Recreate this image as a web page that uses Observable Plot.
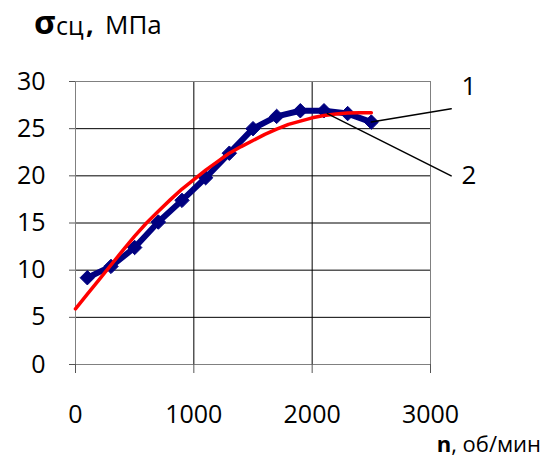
<!DOCTYPE html>
<html><head><meta charset="utf-8">
<script src="https://cdn.jsdelivr.net/npm/d3@7"></script>
<script src="https://cdn.jsdelivr.net/npm/@observablehq/plot@0.6"></script>
<style>body{margin:0;background:#fff;} #chart{position:relative;width:548px;height:460px;}</style>
</head><body><div id="chart"></div>
<script>
// Series 1 (measured, navy with diamonds)
const nMeasured = [100,300,500,700,900,1100,1300,1500,1700,1900,2100,2300,2500];
const sMeasured = [9.2,10.4,12.4,15.1,17.4,19.8,22.4,25.0,26.3,26.9,26.9,26.6,25.7];
// Series 2 (approximation, red)
const nFit = [0,100,200,300,400,500,600,700,800,900,1000,1100,1200,1300,1400,1500,1600,1700,1800,1900,2000,2100,2200,2300,2400,2500];
const sFit = [5.9,7.45,9.0,10.55,12.1,13.6,15.0,16.25,17.45,18.6,19.6,20.6,21.5,22.4,23.1,23.75,24.4,24.95,25.45,25.8,26.15,26.4,26.55,26.65,26.7,26.7];
// Axis ticks
const xTicks = [0,1000,2000,3000];
const yTicks = [0,5,10,15,20,25,30];
// Curve labels and leader lines (data units)
const labelText = ["1","2"];
const labelN = [3262,3262];
const labelS = [29.4,20.0];
const leader1N = [2500,3175], leader1S = [25.7,27.1];
const leader2N = [2128,3175], leader2S = [26.6,20.0];

const measured = nMeasured.map((n,i)=>({n, s:sMeasured[i]}));
const fit = nFit.map((n,i)=>({n, s:sFit[i]}));
const labels = labelText.map((t,i)=>({t, n:labelN[i], s:labelS[i]}));
const leader1 = leader1N.map((n,i)=>({n, s:leader1S[i]}));
const leader2 = leader2N.map((n,i)=>({n, s:leader2S[i]}));

const font = "'Open Sans', sans-serif";
const plot = Plot.plot({
  width: 548, height: 460,
  marginLeft: 75, marginRight: 118, marginTop: 81, marginBottom: 96,
  style: {fontFamily: font, fontSize: "25px", color: "#000", background: "#fff", overflow: "visible"},
  x: {domain: [0,3000], label: null},
  y: {domain: [0,30], label: null},
  marks: [
    Plot.ruleX([1000,2000], {stroke: "#000", strokeWidth: 1}),
    Plot.ruleY([5,10,15,20,25], {stroke: "#000", strokeWidth: 1}),
    Plot.ruleY([30], {stroke: "#808080"}),
    Plot.ruleX([3000], {stroke: "#808080"}),
    Plot.ruleX([0], {stroke: "#808080"}),
    Plot.ruleY([0], {stroke: "#808080"}),
    Plot.axisY({ticks: yTicks, tickSize: 6, tickPadding: 24, fontSize: 25, stroke: "#555", fill: "#000", label: null, tickFormat: d => String(d)}),
    Plot.axisX({ticks: xTicks, tickSize: 9, tickPadding: 32, fontSize: 25, stroke: "#555", fill: "#000", label: null, tickFormat: d => String(d)}),
    Plot.line(measured, {x: "n", y: "s", stroke: "#000080", strokeWidth: 6}),
    Plot.dot(measured, {x: "n", y: "s", symbol: "diamond2", r: 6.5, fill: "#000080", stroke: "#000080", strokeWidth: 1}),
    Plot.line(fit, {x: "n", y: "s", stroke: "#ff0000", strokeWidth: 3.5}),
    Plot.line(leader1, {x: "n", y: "s", stroke: "#000", strokeWidth: 1.5}),
    Plot.line(leader2, {x: "n", y: "s", stroke: "#000", strokeWidth: 1.5}),
    Plot.text(labels, {x: "n", y: "s", text: "t", textAnchor: "start", fontSize: 26, fill: "#000"})
  ]
});
document.getElementById("chart").appendChild(plot);

const svg = d3.select(plot);
const title = svg.append("text").attr("y", 34).attr("text-anchor", "start")
  .attr("font-family", font).attr("fill", "#000");
title.append("tspan").attr("x", 34).attr("font-weight", "bold").attr("font-size", 33).text("σ");
title.append("tspan").attr("x", 56).attr("dy", 1).attr("font-size", 25).text("сц");
title.append("tspan").attr("x", 86).attr("dy", -1).attr("font-weight", "bold").attr("font-size", 27).text(",");
title.append("tspan").attr("x", 105).attr("font-size", 26).text("МПа");

const xl = svg.append("text").attr("x", 541).attr("y", 452).attr("text-anchor", "end")
  .attr("font-family", font).attr("font-size", 22).attr("fill", "#000");
xl.append("tspan").attr("font-weight", "bold").text("n");
xl.append("tspan").text(", об/мин");
</script>
</body></html>
